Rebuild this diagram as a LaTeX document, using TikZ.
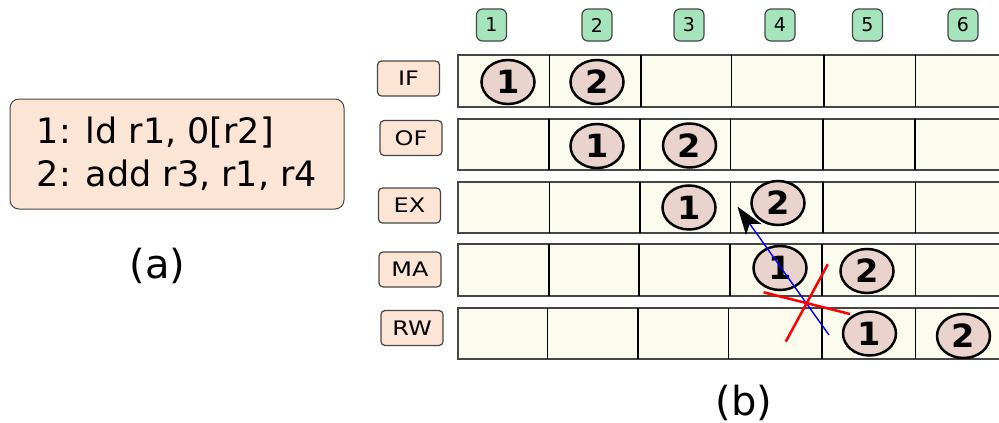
\documentclass[tikz,border=0pt]{standalone}
\usepackage{fontspec}
\usepackage{graphicx}
\setmainfont{DejaVu Sans}
\usetikzlibrary{shapes.geometric,arrows.meta}
\definecolor{peach}{RGB}{253,229,214}
\definecolor{cellfill}{RGB}{251,252,238}
\definecolor{circfill}{RGB}{235,211,205}
\definecolor{clockgreen}{RGB}{166,228,188}
\definecolor{edgegrey}{RGB}{70,70,70}
\tikzset{
  codebox/.style={draw=edgegrey, fill=peach, rounded corners=9pt, line width=1pt,
    minimum width=334pt, minimum height=110pt, inner sep=0pt, align=left,
    font=\fontsize{35}{43}\selectfont},
  stagebox/.style={draw=edgegrey, fill=peach, rounded corners=4pt, line width=1.2pt,
    minimum width=62pt, minimum height=35pt, inner sep=0pt,
    font=\fontsize{20}{24}\selectfont},
  clockbox/.style={draw=edgegrey, fill=clockgreen, rounded corners=6pt, line width=1.2pt,
    minimum width=30pt, minimum height=32pt, inner sep=0pt,
    font=\fontsize{19}{22}\selectfont},
  instr/.style={ellipse, draw=black, fill=circfill, line width=2.5pt,
    minimum width=53pt, minimum height=44pt, inner sep=0pt,
    font=\bfseries\fontsize{32}{36}\selectfont},
  rowbox/.style={draw=edgegrey, fill=cellfill, line width=2pt},
  divider/.style={draw=black, line width=1.7pt},
  caption/.style={font=\fontsize{40}{48}\selectfont, inner sep=0pt, anchor=base},
  hazard/.style={draw=red, line width=2.5pt},
  fwd/.style={draw=blue, line width=1.4pt,
    -{Stealth[length=28pt,width=19pt,inset=7pt,color=black]}},
}
\newcommand{\wide}[1]{\scalebox{1.2}[1]{#1}}
\newcommand{\digit}[1]{\scalebox{1.05}[1]{#1}}
\begin{document}
\begin{tikzpicture}[x=1pt,y=-1pt]
\useasboundingbox (0,0) rectangle (999,423);
\clip (0,0) rectangle (999,423);

% (a) code
\node[codebox] (code) at (177,154) {1: ld r1, 0[r2]\\2: add r3, r1, r4};
\node[caption] (capa) at (157.5,278) {(a)};

% clock cycles
\node[clockbox] (c1) at (491.5,25) {1};
\node[clockbox] (c2) at (597,25) {2};
\node[clockbox] (c3) at (689,25) {3};
\node[clockbox] (c4) at (780,25) {4};
\node[clockbox] (c5) at (867.5,25) {5};
\node[clockbox] (c6) at (963,25) {6};

% stage labels
\node[stagebox] (sIF) at (408.5,78.5) {\wide{IF}};
\node[stagebox] (sOF) at (411,138) {\wide{OF}};
\node[stagebox] (sEX) at (409.5,205.5) {\wide{EX}};
\node[stagebox] (sMA) at (410,269.5) {\wide{MA}};
\node[stagebox] (sRW) at (412,328) {\wide{RW}};

% pipeline rows
\draw[rowbox] (458,55) rectangle (1010,106.5);
\foreach \x in {549.5,641,731.4,823.8,915.4} \draw[divider] (\x,55) -- (\x,106.5);
\draw[rowbox] (458,118.5) rectangle (1010,170);
\foreach \x in {549,640,730.5,823,915} \draw[divider] (\x,118.5) -- (\x,170);
\draw[rowbox] (458,181.5) rectangle (1010,233);
\foreach \x in {549.5,640.3,730.6,823,915.4} \draw[divider] (\x,181.5) -- (\x,233);
\draw[rowbox] (458,244) rectangle (1010,296);
\foreach \x in {548.7,639,730,821.8,915.4} \draw[divider] (\x,244) -- (\x,296);
\draw[rowbox] (458,308) rectangle (1010,359);
\foreach \x in {547.5,638.3,728.6,821.8,915.4} \draw[divider] (\x,308) -- (\x,359);

% instructions
\node[instr] (if1) at (508,82) {\digit{1}};
\node[instr] (if2) at (597,82) {\digit{2}};
\node[instr] (of1) at (597,146) {\digit{1}};
\node[instr] (of2) at (689.5,145.5) {\digit{2}};
\node[instr] (ex1) at (689,207.5) {\digit{1}};
\node[instr] (ex2) at (778,203) {\digit{2}};
\node[instr] (ma1) at (780,268) {\digit{1}};
\node[instr] (ma2) at (867,271) {\digit{2}};
\node[instr] (rw1) at (869.5,333.5) {\digit{1}};
\node[instr] (rw2) at (963.5,336) {\digit{2}};

% forwarding arrow
\coordinate (fwdfrom) at (829,335);
\coordinate (fwdto) at (737.5,206.7);
\draw[fwd] (fwdfrom) -- (fwdto);

% cancelled path
\draw[hazard] (763.6,292.3) -- (850,314);
\draw[hazard] (785.7,341.7) -- (827.8,264.3);

\node[caption] (capb) at (744,415) {(b)};
\end{tikzpicture}
\end{document}
